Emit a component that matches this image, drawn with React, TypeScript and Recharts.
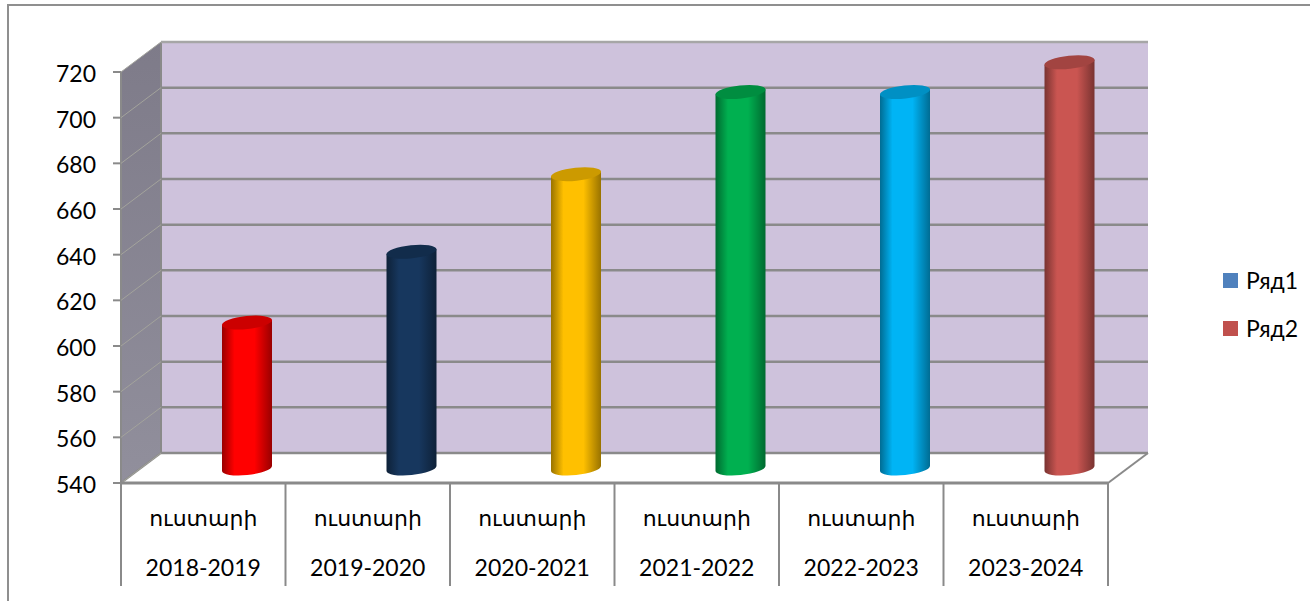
import React from "react";
import {
  BarChart,
  Bar,
  XAxis,
  YAxis,
  CartesianGrid,
  Legend,
} from "recharts";

const YEARS = ["2018-2019", "2019-2020", "2020-2021", "2021-2022", "2022-2023", "2023-2024"];
const YEAR_WORD = "ուստարի";
const SERIES_1: (number | null)[] = [null, null, null, null, null, null];
const SERIES_2 = [605, 636, 670, 706, 706, 719];
const Y_TICKS = [540, 560, 580, 600, 620, 640, 660, 680, 700, 720];

const BAR_COLORS = ["#ff0000", "#17375e", "#ffc000", "#00b050", "#00b4f5", "#ca5551"];
const FONT = "Lato, 'DejaVu Sans', sans-serif";
const LINE = "#8a8a8a";
const DEPTH_X = 40;
const DEPTH_Y = 30;
const BAR_DX = 19;
const BAR_DY = 12;
const BASE_LIFT = 2.5;
const TILT = 2.5;

const data = YEARS.map((year, i) => ({ year, s1: SERIES_1[i], s2: SERIES_2[i] }));

function shade(hex: string, k: number) {
  const n = parseInt(hex.slice(1), 16);
  const c = [(n >> 16) & 255, (n >> 8) & 255, n & 255].map((v) => Math.round(v * k));
  return `rgb(${c[0]},${c[1]},${c[2]})`;
}

// back wall, side wall and floor of the 3D box
function Walls({ l, r, t, b }: { l: number; r: number; t: number; b: number }) {
  return (
    <g>
      <polygon
        points={`${l + DEPTH_X},${t - DEPTH_Y} ${r + DEPTH_X},${t - DEPTH_Y} ${r + DEPTH_X},${b - DEPTH_Y} ${l + DEPTH_X},${b - DEPTH_Y}`}
        fill="#cec2dc"
      />
      <polygon
        points={`${l},${t} ${l + DEPTH_X},${t - DEPTH_Y} ${l + DEPTH_X},${b - DEPTH_Y} ${l},${b}`}
        fill="url(#sideWall)"
      />
      <line x1={l} y1={t} x2={l} y2={b} stroke={LINE} strokeWidth={2} />
      <line x1={l + DEPTH_X} y1={t - DEPTH_Y} x2={l + DEPTH_X} y2={b - DEPTH_Y} stroke={LINE} strokeWidth={2} />
      <line x1={l} y1={b} x2={l + DEPTH_X} y2={b - DEPTH_Y} stroke={LINE} strokeWidth={2} />
      <line x1={r} y1={b} x2={r + DEPTH_X} y2={b - DEPTH_Y} stroke={LINE} strokeWidth={2} />
    </g>
  );
}

function GridLine(props: any) {
  const { x1, x2, y1, index, y, height } = props;
  const isTop = Math.abs(y1 - y) < 1;
  return (
    <g>
      {index === 0 && <Walls l={x1} r={x2} t={y} b={y + height} />}
      <line
        x1={x1}
        y1={y1}
        x2={x1 + DEPTH_X}
        y2={y1 - DEPTH_Y}
        stroke="#a3a39c"
        strokeWidth={1}
      />
      <line
        x1={x1 + DEPTH_X}
        y1={y1 - DEPTH_Y}
        x2={x2 + DEPTH_X}
        y2={y1 - DEPTH_Y}
        stroke={isTop ? "#a6a6a6" : LINE}
        strokeWidth={2.5}
      />
    </g>
  );
}

function Cylinder(props: any) {
  const { x, y, width, height, index } = props;
  if (height == null || !width) return null;
  const rx = width / 2;
  const ry = 6.5;
  const left = x + BAR_DX;
  const right = left + width;
  const top = y - BAR_DY;
  const bottom = y + height - BAR_DY - BASE_LIFT;
  const color = BAR_COLORS[index];
  return (
    <g>
      <path
        d={`M${left},${top + TILT} L${left},${bottom + TILT} A${rx},${ry} -6 0 0 ${right},${bottom - TILT} L${right},${top - TILT} Z`}
        fill={`url(#cyl${index})`}
      />
      <ellipse
        cx={left + rx}
        cy={top}
        rx={rx + 0.2}
        ry={ry}
        transform={`rotate(-6 ${left + rx} ${top})`}
        fill={shade(color, 0.8)}
      />
    </g>
  );
}

function CategoryTick(props: any) {
  const { x, index, payload } = props;
  const band = 164.5;
  const left = x - band / 2;
  return (
    <g>
      <line x1={left} y1={483} x2={left} y2={586} stroke={LINE} strokeWidth={2} />
      {index === YEARS.length - 1 && (
        <line x1={left + band} y1={483} x2={left + band} y2={586} stroke={LINE} strokeWidth={2} />
      )}
      <text x={x} y={526} textAnchor="middle" fontFamily={FONT} fontSize={22} fill="#000">
        {YEAR_WORD}
      </text>
      <text x={x} y={576} textAnchor="middle" fontFamily={FONT} fontSize={23} fill="#000">
        {payload.value}
      </text>
    </g>
  );
}

function LegendBox({ payload }: any) {
  return (
    <div>
      {(payload || []).map((p: any) => (
        <div key={p.value} style={{ display: "flex", alignItems: "center", height: 48 }}>
          <span style={{ width: 15, height: 15, background: p.color, marginRight: 8 }} />
          <span style={{ fontFamily: FONT, fontSize: 23, color: "#000" }}>{p.value}</span>
        </div>
      ))}
    </div>
  );
}

export default function App() {
  return (
    <div
      style={{
        position: "absolute",
        left: 0,
        top: 0,
        width: 1310,
        height: 601,
        overflow: "hidden",
        background: "#fff",
      }}
    >
      <div
        style={{
          position: "absolute",
          left: 7,
          top: 4,
          width: 1310,
          height: 610,
          borderLeft: "2px solid #8f8f8f",
          borderTop: "2px solid #8f8f8f",
        }}
      />
      <BarChart
        width={1310}
        height={601}
        data={data}
        margin={{ top: 72, right: 115, bottom: 0, left: 0 }}
        barSize={50}
        barGap={0}
        style={{ position: "absolute", left: 0, top: 0 }}
      >
        <defs>
          <linearGradient id="sideWall" x1="0" y1="0" x2="0" y2="1">
            <stop offset="0" stopColor="#7e7b89" />
            <stop offset="1" stopColor="#918f9c" />
          </linearGradient>
          {BAR_COLORS.map((c, i) => (
            <linearGradient key={c} id={`cyl${i}`} x1="0" y1="0" x2="1" y2="0">
              <stop offset="0" stopColor={shade(c, 0.6)} />
              <stop offset="0.25" stopColor={c} />
              <stop offset="0.65" stopColor={c} />
              <stop offset="1" stopColor={shade(c, 0.6)} />
            </linearGradient>
          ))}
        </defs>
        <CartesianGrid horizontal={GridLine} vertical={false} />
        <XAxis
          dataKey="year"
          height={118}
          interval={0}
          tick={CategoryTick}
          tickLine={false}
          axisLine={{ stroke: LINE, strokeWidth: 3 }}
        />
        <YAxis
          domain={[540, 720]}
          ticks={Y_TICKS}
          width={121}
          interval={0}
          tickSize={8}
          tickMargin={17}
          tick={{ fontFamily: FONT, fontSize: 23, fill: "#000", dy: 2 }}
          tickLine={{ stroke: LINE, strokeWidth: 2 }}
          axisLine={false}
        />
        <Legend
          content={<LegendBox />}
          layout="vertical"
          align="right"
          verticalAlign="middle"
          wrapperStyle={{ position: "absolute", left: 1223, top: 256, width: 87 }}
        />
        <Bar dataKey="s1" name="Ряд1" fill="#4f81bd" isAnimationActive={false} shape={<Cylinder />} />
        <Bar dataKey="s2" name="Ряд2" fill="#c0504d" isAnimationActive={false} shape={<Cylinder />} />
      </BarChart>
    </div>
  );
}
